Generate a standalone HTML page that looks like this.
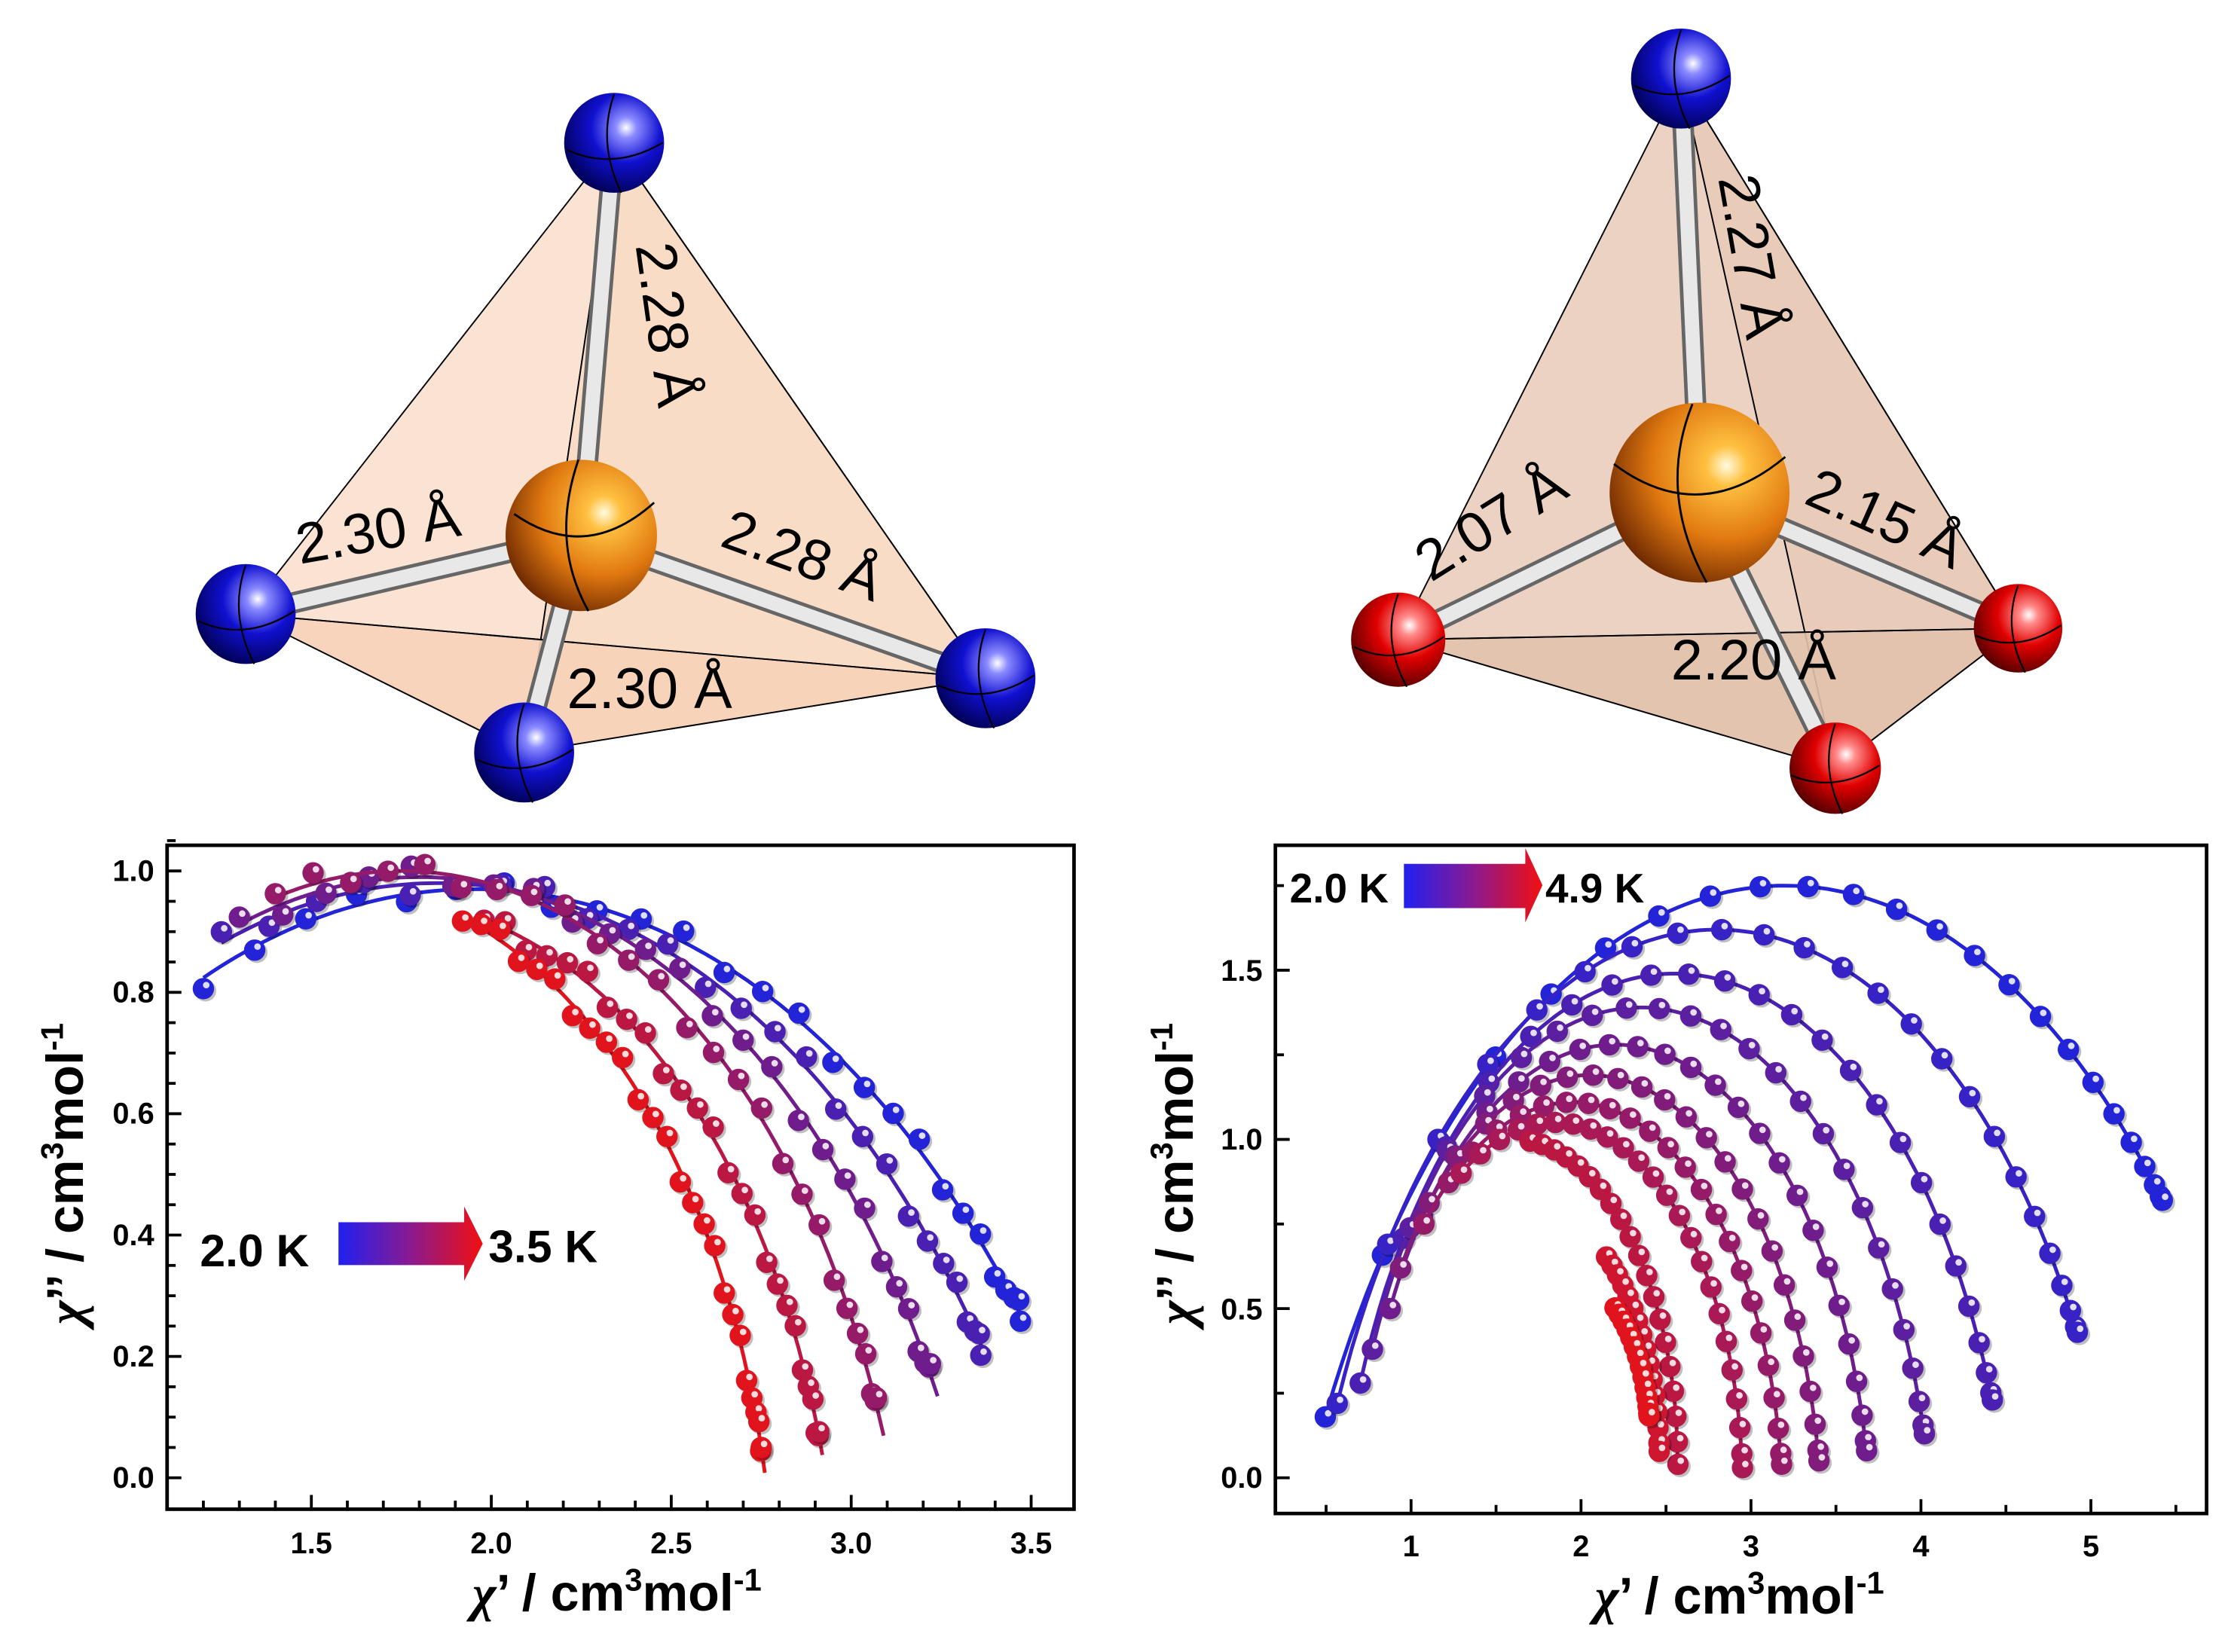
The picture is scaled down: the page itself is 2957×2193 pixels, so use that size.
<!DOCTYPE html>
<html><head><meta charset="utf-8"><style>
html,body{margin:0;padding:0;background:#fff;}
svg{display:block;}
text{font-family:"Liberation Sans",Arial,sans-serif;}
</style></head><body>
<svg id="s" xmlns="http://www.w3.org/2000/svg" width="2957" height="2193" viewBox="0 0 1560 1157" preserveAspectRatio="none">
<defs>
<radialGradient id="gb" cx="0.62" cy="0.35" r="0.7"><stop offset="0" stop-color="#fff"/><stop offset="0.15" stop-color="#8a8aff"/><stop offset="0.5" stop-color="#1010d0"/><stop offset="1" stop-color="#000050"/></radialGradient>
<radialGradient id="gr" cx="0.62" cy="0.35" r="0.7"><stop offset="0" stop-color="#fff"/><stop offset="0.15" stop-color="#ff8a8a"/><stop offset="0.5" stop-color="#e00000"/><stop offset="1" stop-color="#500000"/></radialGradient>
<radialGradient id="go" cx="0.65" cy="0.35" r="0.75"><stop offset="0" stop-color="#fffbe0"/><stop offset="0.15" stop-color="#ffc040"/><stop offset="0.55" stop-color="#e07810"/><stop offset="1" stop-color="#602000"/></radialGradient>
<linearGradient id="leg" x1="0" x2="1" y1="0" y2="0"><stop offset="0" stop-color="#2020f0"/><stop offset="0.5" stop-color="#8a1a90"/><stop offset="1" stop-color="#f01010"/></linearGradient>
<clipPath id="c1"><rect x="117" y="592" width="635" height="465"/></clipPath>
<clipPath id="c2"><rect x="893" y="592" width="652" height="468"/></clipPath>
</defs>

<g stroke="#000" stroke-width="1">
<polygon points="430,100 172,430 367,527" fill="#fbe3d3"/>
<polygon points="430,100 367,527 690,475" fill="#f9dcc6"/>
<polygon points="172,430 367,527 690,475" fill="#f6d2b8" fill-opacity="0.9"/>
<line x1="430" y1="100" x2="690" y2="475"/><line x1="172" y1="430" x2="690" y2="475"/>
</g>
<g stroke-linecap="round">
<line x1="407" y1="375" x2="430" y2="100" stroke="#666" stroke-width="15"/><line x1="407" y1="375" x2="430" y2="100" stroke="#e8e8e8" stroke-width="10"/>
<line x1="407" y1="375" x2="172" y2="430" stroke="#666" stroke-width="15"/><line x1="407" y1="375" x2="172" y2="430" stroke="#e8e8e8" stroke-width="10"/>
<line x1="407" y1="375" x2="690" y2="475" stroke="#666" stroke-width="15"/><line x1="407" y1="375" x2="690" y2="475" stroke="#e8e8e8" stroke-width="10"/>
<line x1="407" y1="375" x2="367" y2="527" stroke="#666" stroke-width="15"/><line x1="407" y1="375" x2="367" y2="527" stroke="#e8e8e8" stroke-width="10"/>
</g>
<circle cx="407" cy="375" r="53" fill="url(#go)"/>
<path d="M360,360 Q410,395 458,352 M405,322 Q385,380 412,428" fill="none" stroke="#000" stroke-width="1.5"/>
<g fill="url(#gb)"><circle cx="430" cy="100" r="35"/><circle cx="172" cy="430" r="35"/><circle cx="367" cy="527" r="35"/><circle cx="690" cy="475" r="35"/></g>
<g fill="none" stroke="#000" stroke-width="1.2"><path d="M397,105 Q430,120 464,100 M430,66 Q418,100 435,135"/><path d="M139,435 Q172,450 206,428 M172,396 Q160,430 178,465"/><path d="M334,532 Q367,547 401,525 M367,493 Q355,527 373,562"/><path d="M657,480 Q690,495 724,473 M690,441 Q678,475 696,510"/></g>
<g font-size="40" fill="#000">
<text transform="translate(445,172) rotate(82)">2.28 Å</text>
<text transform="translate(210,395) rotate(-10)">2.30 Å</text>
<text transform="translate(503,382) rotate(20)">2.28 Å</text>
<text x="397" y="496">2.30 Å</text>
</g>

<g stroke="#000" stroke-width="1">
<polygon points="1177,55 979,448 1285,538" fill="#ecd2c2"/>
<polygon points="1177,55 1285,538 1413,440" fill="#e8cbb8"/>
<polygon points="979,448 1285,538 1413,440" fill="#e2c2ad" fill-opacity="0.9"/>
<line x1="1177" y1="55" x2="1413" y2="440"/><line x1="979" y1="448" x2="1413" y2="440"/>
</g>
<g stroke-linecap="round">
<line x1="1190" y1="345" x2="1177" y2="55" stroke="#666" stroke-width="15"/><line x1="1190" y1="345" x2="1177" y2="55" stroke="#e8e8e8" stroke-width="10"/>
<line x1="1190" y1="345" x2="979" y2="448" stroke="#666" stroke-width="15"/><line x1="1190" y1="345" x2="979" y2="448" stroke="#e8e8e8" stroke-width="10"/>
<line x1="1190" y1="345" x2="1413" y2="440" stroke="#666" stroke-width="15"/><line x1="1190" y1="345" x2="1413" y2="440" stroke="#e8e8e8" stroke-width="10"/>
<line x1="1190" y1="345" x2="1285" y2="538" stroke="#666" stroke-width="15"/><line x1="1190" y1="345" x2="1285" y2="538" stroke="#e8e8e8" stroke-width="10"/>
</g>
<circle cx="1190" cy="345" r="63" fill="url(#go)"/>
<path d="M1130,325 Q1190,370 1250,320 M1185,283 Q1160,345 1195,408" fill="none" stroke="#000" stroke-width="1.5"/>
<circle cx="1177" cy="55" r="35" fill="url(#gb)"/>
<g fill="url(#gr)"><circle cx="979" cy="448" r="33"/><circle cx="1413" cy="440" r="31"/><circle cx="1285" cy="538" r="32"/></g>
<g fill="none" stroke="#000" stroke-width="1.2"><path d="M1144,60 Q1177,75 1211,53 M1177,21 Q1165,55 1183,90"/><path d="M948,453 Q979,468 1011,446 M979,416 Q967,448 985,481"/><path d="M1383,445 Q1413,458 1443,438 M1413,410 Q1402,440 1418,471"/><path d="M1254,543 Q1285,556 1316,536 M1285,507 Q1274,538 1290,570"/></g>
<g font-size="40" fill="#000">
<text transform="translate(1203,125) rotate(80)">2.27 Å</text>
<text transform="translate(1002,408) rotate(-32)">2.07 Å</text>
<text transform="translate(1262,352) rotate(24)">2.15 Å</text>
<text x="1170" y="476">2.20 Å</text>
</g>

<rect x="117" y="592" width="635" height="465" fill="none" stroke="#000" stroke-width="2.5"/>
<g id="ax1" stroke="#000" stroke-width="2"></g>
<g font-size="21" font-weight="bold" text-anchor="middle">
<text x="218" y="1088">1.5</text><text x="344" y="1088">2.0</text><text x="470" y="1088">2.5</text><text x="596" y="1088">3.0</text><text x="722" y="1088">3.5</text>
</g>
<g font-size="21" font-weight="bold" text-anchor="end">
<text x="108" y="1042">0.0</text><text x="108" y="957">0.2</text><text x="108" y="872">0.4</text><text x="108" y="787">0.6</text><text x="108" y="702">0.8</text><text x="108" y="617">1.0</text>
</g>
<text x="432" y="1128" font-size="36" font-weight="bold" text-anchor="middle"><tspan font-style="italic" font-family="Liberation Serif">χ</tspan>’ / cm<tspan font-size="22" dy="-14">3</tspan><tspan dy="14">mol</tspan><tspan font-size="22" dy="-14">-1</tspan></text>
<text transform="translate(58,822) rotate(-90)" font-size="36" font-weight="bold" text-anchor="middle"><tspan font-style="italic" font-family="Liberation Serif">χ</tspan>’’ / cm<tspan font-size="22" dy="-14">3</tspan><tspan dy="14">mol</tspan><tspan font-size="22" dy="-14">-1</tspan></text>

<rect x="893" y="592" width="652" height="468" fill="none" stroke="#000" stroke-width="2.5"/>
<g id="ax2" stroke="#000" stroke-width="2"></g>
<g font-size="21" font-weight="bold" text-anchor="middle">
<text x="988" y="1090">1</text><text x="1107" y="1090">2</text><text x="1226" y="1090">3</text><text x="1345" y="1090">4</text><text x="1464" y="1090">5</text>
</g>
<g font-size="21" font-weight="bold" text-anchor="end">
<text x="884" y="1042">0.0</text><text x="884" y="924">0.5</text><text x="884" y="805">1.0</text><text x="884" y="687">1.5</text>
</g>
<text x="1218" y="1130" font-size="36" font-weight="bold" text-anchor="middle"><tspan font-style="italic" font-family="Liberation Serif">χ</tspan>’ / cm<tspan font-size="22" dy="-14">3</tspan><tspan dy="14">mol</tspan><tspan font-size="22" dy="-14">-1</tspan></text>
<text transform="translate(835,822) rotate(-90)" font-size="36" font-weight="bold" text-anchor="middle"><tspan font-style="italic" font-family="Liberation Serif">χ</tspan>’’ / cm<tspan font-size="22" dy="-14">3</tspan><tspan dy="14">mol</tspan><tspan font-size="22" dy="-14">-1</tspan></text>

<g id="d1" clip-path="url(#c1)"></g>
<g id="d2" clip-path="url(#c2)"></g>

<text x="140" y="887" font-size="32" font-weight="bold">2.0 K</text>
<path d="M237,856 H325 V845 L338,871 L325,897 V886 H237 Z" fill="url(#leg)"/>
<text x="342" y="884" font-size="32" font-weight="bold">3.5 K</text>
<text x="903" y="632" font-size="29" font-weight="bold">2.0 K</text>
<path d="M983,605 H1068 V594 L1080,620 L1068,646 V636 H983 Z" fill="url(#leg)"/>
<text x="1082" y="632" font-size="29" font-weight="bold">4.9 K</text>
</svg>
<script>
var NS="http://www.w3.org/2000/svg";
function el(p,n,a){var e=document.createElementNS(NS,n);for(var k in a)e.setAttribute(k,a[k]);p.appendChild(e);return e;}
function col(t){var r=Math.round(35+190*t),g=Math.round(35-15*t),b=Math.round(215-185*t);return "rgb("+r+","+g+","+b+")";}
var a1=document.getElementById("ax1");
for(var x=1.2;x<=3.55;x+=0.1){var px=218+(x-1.5)*252;var maj=Math.abs(x*2-Math.round(x*2))<0.01;el(a1,"line",{x1:px,y1:1057,x2:px,y2:1057-(maj?10:6)});}
for(var y=0;y<=1.06;y+=0.05){var py=1035-y*425;var maj=Math.abs(y*5-Math.round(y*5))<0.01;el(a1,"line",{x1:117,y1:py,x2:117+(maj?10:6),y2:py});}
var a2=document.getElementById("ax2");
for(var x=0.5;x<=5.6;x+=0.5){var px=869+x*119;var maj=Math.abs(x-Math.round(x))<0.01;el(a2,"line",{x1:px,y1:1060,x2:px,y2:1060-(maj?10:6)});}
for(var y=0;y<=1.9;y+=0.25){var py=1035-y*237;var maj=Math.abs(y*2-Math.round(y*2))<0.01;el(a2,"line",{x1:893,y1:py,x2:893+(maj?10:6),y2:py});}
function draw(g,X,Y,S,npts,ymode){
 S.forEach(function(s,i){
  var cx=s[0],top=s[1],xs=s[2],xe=s[3],ye=s[4];var t=i/(S.length-1);var c=col(t);
  var dx=xe-cx;var cy=(top*top-ye*ye-dx*dx)/(2*(top-ye));var R=top-cy;
  if(ymode && s[6]!=="x"){var ys=xs;xs=cx-Math.sqrt(R*R-(ys-cy)*(ys-cy));}
  function f(x){var d=R*R-(x-cx)*(x-cx);return d>0?Math.sqrt(d)+cy:0;}
  var d="";var xend=xe+(s[5]||0);
  for(var k=0;k<=100;k++){var x=xs+(xend-xs)*k/100;d+=(k?"L":"M")+X(x).toFixed(1)+","+Y(f(x)).toFixed(1);}
  el(g,"path",{d:d,fill:"none",stroke:c,"stroke-width":2.6});
  var n=s[7]||npts;
  for(var k=0;k<n;k++){var u=k/(n-1);var x=xs+(xe-xs)*Math.sin(u*Math.PI/2);
   var jit=ymode?0:((k*37+i*13)%7-3)*0.006;
   var px=X(x),py=Y(f(x)+jit);
   el(g,"circle",{cx:px+1.5,cy:py+1.5,r:7.5,fill:"#000","fill-opacity":0.25});
   el(g,"circle",{cx:px,cy:py,r:7.5,fill:c});
   el(g,"circle",{cx:px+2,cy:py-2.5,r:2.3,fill:"#fff","fill-opacity":0.85});}
 });
}
draw(document.getElementById("d1"),function(x){return 218+(x-1.5)*252},function(y){return 1035-y*425},
[[1.95,0.97,1.2,3.47,0.27,0.02],[1.85,0.98,1.25,3.36,0.22,0.02],[1.8,0.99,1.3,3.22,0.17,0.02],[1.75,1.0,1.4,3.07,0.12,0.02],[1.7,0.95,1.98,2.91,0.07,0.01],[1.55,0.98,1.92,2.75,0.05,0.01]],26,false);
draw(document.getElementById("d2"),function(x){return 869+x*119},function(y){return 1035-y*237},
[[3.2,1.75,0.18,5.42,0.82],[2.8,1.62,0.22,4.92,0.43],[2.55,1.49,0.28,4.42,0.23],[2.35,1.39,0.38,4.02,0.13],[2.2,1.28,0.5,3.68,0.08],[2.05,1.19,0.62,3.4,0.05],[1.95,1.11,0.75,3.18,0.04],[1.85,1.05,0.9,2.95,0.03],[1.6,1.0,1.7,2.57,0.02,0,"x",20],[1.7,0.8,2.15,2.46,0.0,0,"x",16],[1.9,0.6,2.2,2.4,0.0,0,"x",14]],24,true);
</script>
</body></html>
